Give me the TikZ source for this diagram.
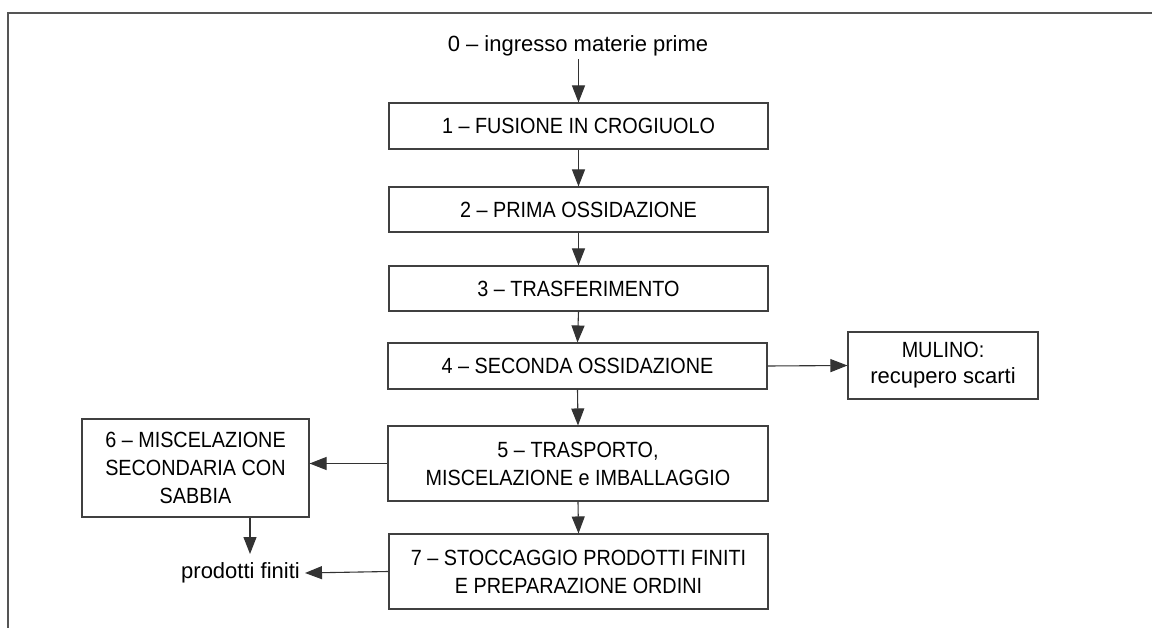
\documentclass[tikz,border=0pt]{standalone}
\usepackage{fontspec}
\setmainfont{Liberation Sans}
\newfontfamily\capfont{Liberation Sans}[FakeStretch=0.9]
\usetikzlibrary{arrows.meta}
\definecolor{boxgray}{HTML}{404040}
\definecolor{linegray}{HTML}{333333}
\definecolor{framegray}{HTML}{555555}
\begin{document}
\begin{tikzpicture}[x=1pt,y=-1pt,
  font=\fontsize{22}{28}\selectfont,
  box/.style={draw=boxgray, line width=1.1pt, fill=white, inner sep=0pt, align=center, text=black, font=\fontsize{22}{28}\selectfont\capfont},
  arr/.style={draw=linegray, line width=1.1pt, -{Triangle[length=17pt,width=13pt]}},
  lbl/.style={inner sep=0pt, text=black}]
\useasboundingbox (0,0) rectangle (1152,628);
\draw[framegray, line width=1.5pt] (1152,13) -- (8,13) -- (8,628);

\node[lbl] (n0) at (578,46) {0 – ingresso materie prime};
\node[box, minimum width=379pt, minimum height=46pt] (b1) at (578.5,126) {1 – FUSIONE IN CROGIUOLO};
\node[box, minimum width=379pt, minimum height=45pt] (b2) at (578.5,209.5) {2 – PRIMA OSSIDAZIONE};
\node[box, minimum width=379pt, minimum height=45pt] (b3) at (578.5,288.5) {3 – TRASFERIMENTO};
\node[box, minimum width=379pt, minimum height=46pt] (b4) at (577.5,366) {4 – SECONDA OSSIDAZIONE};
\node[box, minimum width=380pt, minimum height=75pt] (b5) at (578,463.5) {5 – TRASPORTO,\\MISCELAZIONE e IMBALLAGGIO};
\node[box, minimum width=379pt, minimum height=75pt] (b7) at (578.5,571.5) {7 – STOCCAGGIO PRODOTTI FINITI\\E PREPARAZIONE ORDINI};
\node[box, minimum width=227pt, minimum height=98pt] (b6) at (195.5,468) {6 – MISCELAZIONE\\SECONDARIA CON\\SABBIA};
\node[box, minimum width=190pt, minimum height=67pt, font=\fontsize{22}{26}\selectfont] (mul) at (943,365.5) {{\capfont MULINO:}\\recupero scarti};
\node[lbl, inner xsep=5pt] (pf) at (240.5,573) {prodotti finiti};
\coordinate (pfa) at (250,554);

\draw[arr, shorten <=3pt] (b1.north |- n0.south) -- (b1.north);
\draw[arr] (b1.south) -- (b2.north);
\draw[arr] (b2.south) -- (b3.north);
\draw[arr] (b3.south) -- (b4.north);
\draw[arr] (b4.south) -- (b5.north);
\draw[arr] (b5.south) -- (b7.north);
\draw[arr] (b4.east) -- (mul.west);
\draw[arr] (b5.west) -- (b5.west -| b6.east);
\draw[arr] (b7.west) -- (pf.east);
\draw[arr] (b6.south -| pfa) -- (pfa);
\end{tikzpicture}
\end{document}
